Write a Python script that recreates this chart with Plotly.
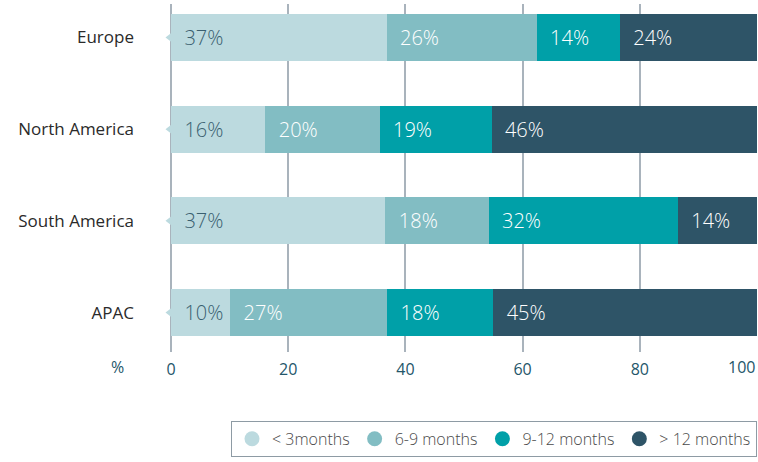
import plotly.graph_objects as go

regions = ["Europe", "North America", "South America", "APAC"]
series_names = ["< 3months", "6-9 months", "9-12 months", "> 12 months"]
lt3 = [36.8, 16.1, 36.6, 10.1]
m6_9 = [25.6, 19.5, 17.6, 26.8]
m9_12 = [14.2, 19.1, 32.3, 18.1]
gt12 = [23.4, 45.3, 13.5, 45.0]
lt3_labels = ["37%", "16%", "37%", "10%"]
m6_9_labels = ["26%", "20%", "18%", "27%"]
m9_12_labels = ["14%", "19%", "32%", "18%"]
gt12_labels = ["24%", "46%", "14%", "45%"]
x_ticks = [0, 20, 40, 60, 80, 100]
x_tick_labels = ["0", "20", "40", "60", "80", "100"]

colors = ["#bcdadf", "#82bdc3", "#00a0a8", "#2e5467"]
text_colors = ["#3a5f70", "#ffffff", "#ffffff", "#ffffff"]
series_vals = [lt3, m6_9, m9_12, gt12]
series_labels = [lt3_labels, m6_9_labels, m9_12_labels, gt12_labels]

FONT = "Open Sans"
TICK_COLOR = "#24566a"
fig = go.Figure()
for name, vals, labs, c, tc in zip(series_names, series_vals, series_labels, colors, text_colors):
    fig.add_trace(go.Bar(
        y=regions, x=vals, orientation="h", name=name,
        marker=dict(color=c, line=dict(width=0)),
        text=["\u00a0\u00a0" + t for t in labs], textposition="inside",
        insidetextanchor="start", constraintext="none",
        textfont=dict(family=FONT, size=20, color=tc, weight=300),
        showlegend=False, hoverinfo="skip",
    ))

# little notch pointing left at each bar's start
fig.add_trace(go.Scatter(
    x=[0] * len(regions), y=regions, mode="markers",
    marker=dict(symbol="triangle-left", size=11, color=colors[0]),
    cliponaxis=False, showlegend=False, hoverinfo="skip",
))

# legend entries as circles
for name, c in zip(series_names, colors):
    fig.add_trace(go.Scatter(
        x=[None], y=[None], mode="markers", name=name,
        marker=dict(symbol="circle", size=15, color=c),
    ))

fig.update_layout(
    width=758, height=462,
    margin=dict(l=171, r=1, t=4, b=110),
    barmode="stack", bargap=0.487,
    plot_bgcolor="white", paper_bgcolor="white",
    font=dict(family=FONT, color="#333333"),
    xaxis=dict(
        range=[0, 100], tickvals=x_ticks,
        ticktext=x_tick_labels[:-1] + [""],
        showgrid=True, gridcolor="#a9b3bc", gridwidth=1.5,
        zeroline=True, zerolinecolor="#a9b3bc", zerolinewidth=1.5,
        showline=False, ticks="", automargin=False, ticklabelstandoff=6,
        tickfont=dict(family=FONT, size=16, color=TICK_COLOR, weight=400),
        fixedrange=True,
    ),
    yaxis=dict(
        categoryorder="array", categoryarray=regions,
        range=[3.43, -0.365], showgrid=False, zeroline=False,
        ticks="", ticklabelstandoff=36, automargin=False,
        tickfont=dict(family=FONT, size=17, color="#2a2a2a", weight=400),
    ),
    legend=dict(
        orientation="h", x=1, xanchor="right", y=-0.198, yanchor="top",
        bordercolor="#8e9ba4", borderwidth=1,
        font=dict(family=FONT, size=16, color="#4a4a4a", weight=300),
        itemsizing="trace", traceorder="normal",
    ),
    annotations=[
        dict(text="%", xref="paper", yref="paper", x=-0.092, y=0, yshift=-15,
             xanchor="center", yanchor="middle", showarrow=False,
             font=dict(family=FONT, size=16, color=TICK_COLOR, weight=400)),
        dict(text=x_tick_labels[-1], xref="x", yref="paper", x=x_ticks[-1], y=0,
             yshift=-15, xanchor="right", yanchor="middle", showarrow=False,
             font=dict(family=FONT, size=16, color=TICK_COLOR, weight=400)),
    ],
)

fig.write_html(
    "out.html",
    config={"displayModeBar": False},
    post_script="document.body.style.margin='0';document.body.style.padding='0';",
)
